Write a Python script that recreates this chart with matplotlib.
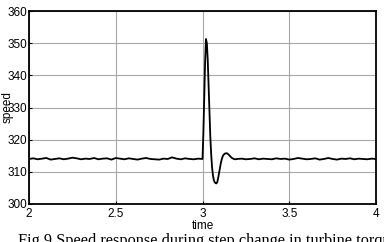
import matplotlib
matplotlib.use("Agg")
import matplotlib.pyplot as plt
import numpy as np

# Pre-step baseline (t = 2.0 .. 3.0 step 0.025)
t_pre = [2.0 + 0.025 * i for i in range(41)]
v_pre = [314.0, 314.2, 313.9, 314.1, 314.3, 313.8, 314.0, 314.2, 313.9, 314.1,
         314.4, 314.2, 313.9, 314.1, 314.0, 314.3, 313.9, 314.1, 314.2, 313.8,
         314.3, 314.1, 313.9, 314.2, 314.0, 313.8, 314.1, 314.3, 314.0, 313.9,
         313.8, 314.1, 314.0, 314.5, 314.1, 313.9, 314.2, 314.0, 313.9, 314.1, 314.0]

# Transient after the step
t_tr = [3.005, 3.01, 3.015, 3.02, 3.025, 3.03, 3.035, 3.04, 3.045, 3.05,
        3.055, 3.06, 3.065, 3.07, 3.075, 3.08, 3.085, 3.09, 3.095, 3.10,
        3.105, 3.11, 3.115, 3.12, 3.13, 3.14, 3.15, 3.16, 3.17, 3.18, 3.19]
v_tr = [322.0, 333.0, 344.0, 351.3, 350.0, 345.0, 337.0, 329.0, 321.0, 315.5,
        311.5, 309.0, 307.5, 306.8, 306.5, 306.4, 306.8, 308.0, 309.5, 311.0,
        312.5, 313.7, 314.6, 315.2, 315.7, 315.8, 315.4, 314.8, 314.3, 314.0, 313.9]

# Post-transient baseline (t = 3.2 .. 4.0 step 0.025)
t_post = [3.2 + 0.025 * i for i in range(33)]
v_post = [314.0, 314.1, 313.9, 314.0, 314.2, 313.9, 314.1, 314.0, 313.9, 314.2,
          314.0, 314.1, 313.8, 314.0, 314.3, 314.1, 313.9, 314.0, 314.2, 313.8,
          314.0, 314.3, 314.0, 313.8, 314.1, 314.0, 314.2, 313.9, 314.1, 314.0,
          313.9, 314.1, 314.0]

t = t_pre + t_tr + t_post
v = v_pre + v_tr + v_post

x_ticks = [2, 2.5, 3, 3.5, 4]
x_labels = ["2", "2.5", "3", "3.5", "4"]
y_ticks = [300, 310, 320, 330, 340, 350, 360]

fig = plt.figure(figsize=(3.84, 2.42), dpi=100)
ax = fig.add_axes([29/384, 1 - 204/242, (376-29)/384, (204-11)/242])
ax.plot(t, v, color="black", lw=1.3)
ax.set_xlim(2, 4)
ax.set_ylim(300, 360)
ax.set_xticks(x_ticks)
ax.set_xticklabels(x_labels)
ax.set_yticks(y_ticks)
ax.grid(True, color="#a8a8a8", lw=0.8)
ax.tick_params(direction="in", length=2, labelsize=8.5,
               labelfontfamily="Liberation Sans")
ax.tick_params(axis="x", pad=3)
ax.tick_params(axis="y", pad=1)
for s in ax.spines.values():
    s.set_linewidth(1.3)
ax.set_xlabel("time", fontsize=8.5, family="Liberation Sans", labelpad=0)
ax.set_ylabel("speed", fontsize=8.5, family="Liberation Sans", labelpad=-4)
fig.text(18/384, -3/242, "Fig.9 Speed response during step change in turbine torque",
         fontsize=11.7, family="Liberation Serif", ha="left", va="baseline")
fig.savefig("out.png", dpi=100)
